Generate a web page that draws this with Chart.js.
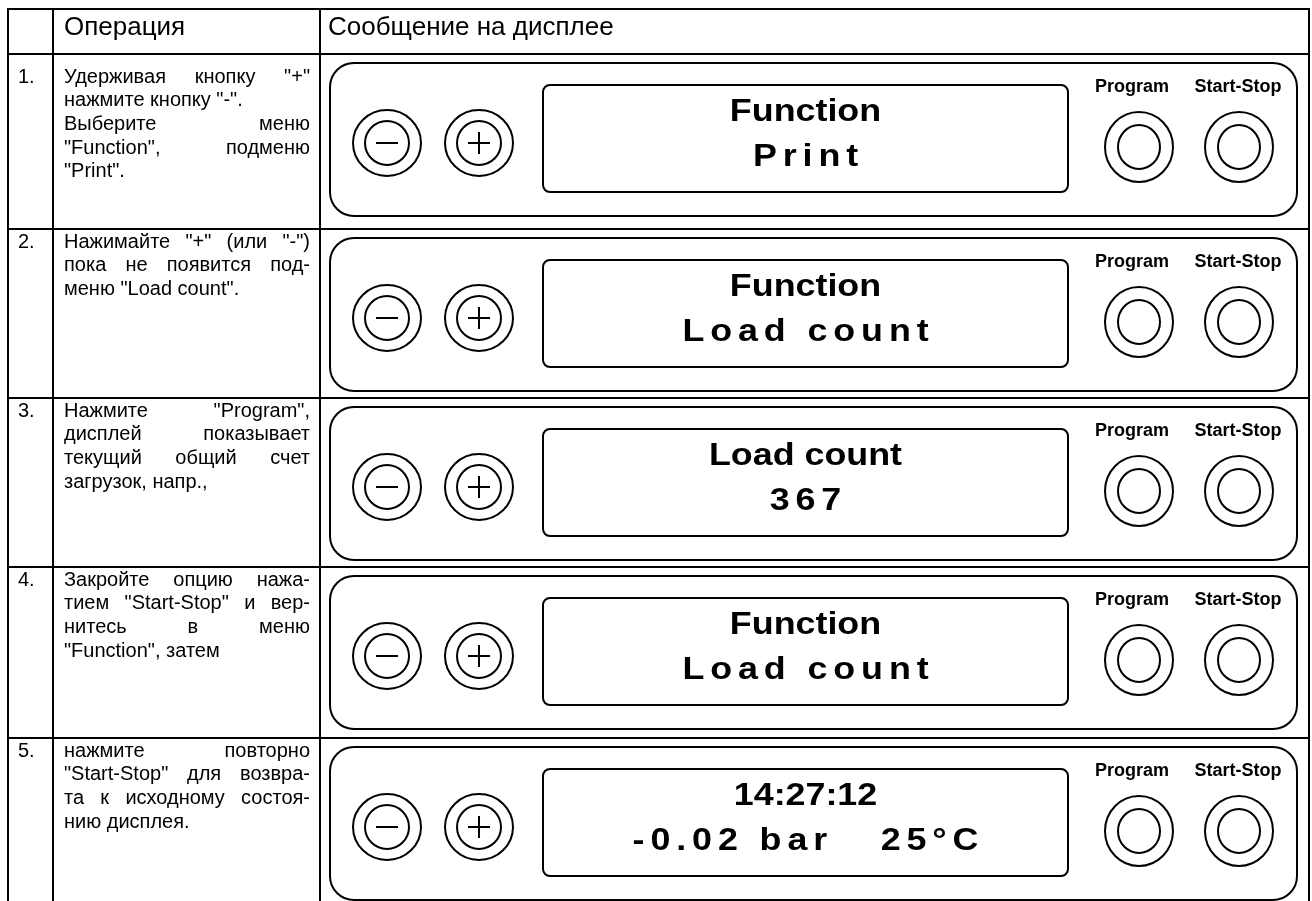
<!DOCTYPE html>
<html>
<head>
<meta charset="utf-8">
<script src="https://cdn.jsdelivr.net/npm/chart.js@4.4.0/dist/chart.umd.min.js"></script>
<style>
html, body { margin: 0; padding: 0; background: #fff; }
#wrap { position: relative; width: 1312px; height: 901px; }
</style>
</head>
<body>
<div id="wrap"><canvas id="myChart"></canvas></div>
<script>
// table content
var headers = ["Операция", "Сообщение на дисплее"];
var stepNumbers = ["1.", "2.", "3.", "4.", "5."];
var stepTexts = [
  ["Удерживая кнопку \"+\"", "нажмите кнопку \"-\".", "Выберите меню", "\"Function\", подменю", "\"Print\"."],
  ["Нажимайте \"+\" (или \"-\")", "пока не появится под-", "меню \"Load count\"."],
  ["Нажмите \"Program\",", "дисплей показывает", "текущий общий счет", "загрузок, напр.,"],
  ["Закройте опцию нажа-", "тием \"Start-Stop\" и вер-", "нитесь в меню", "\"Function\", затем"],
  ["нажмите повторно", "\"Start-Stop\" для возвра-", "та к исходному состоя-", "нию дисплея."]
];
var displayLine1 = ["Function", "Function", "Load count", "Function", "14:27:12"];
var displayLine2 = ["Print", "Load count", "367", "Load count", "-0.02 bar   25°C"];
var buttonLabels = ["Program", "Start-Stop"];

// layout (pixels of the 1312x901 page)
var layout = {
  left: 8, right: 1309, top: 9, bottom: 901,
  col1: 53, col2: 320,
  rowTops: [54, 229, 398, 567, 738],
  panelX0: 330, panelX1: 1297, panelH: 153, panelOff: 9,
  dispX0: 543, dispX1: 1068, dispOff: 22, dispH: 107,
  minusX: 387, plusX: 479, progX: 1139, startX: 1239
};

var sans = "'Liberation Sans', Arial, sans-serif";

// display characters are a little wider than plain Arial Bold
function drawDisplayLine(ctx, text, cx, cy, stretch, spacing) {
  var widths = [], total = 0;
  for (var i = 0; i < text.length; i++) {
    var w = ctx.measureText(text[i]).width * stretch;
    widths.push(w);
    total += w;
  }
  total += spacing * (text.length - 1);
  var x = cx - total / 2;
  ctx.textAlign = 'left';
  for (var j = 0; j < text.length; j++) {
    ctx.save();
    ctx.translate(x, cy);
    ctx.scale(stretch, 1);
    ctx.fillText(text[j], 0, 0);
    ctx.restore();
    x += widths[j] + spacing;
  }
}

function drawJustified(ctx, line, x0, x1, y, justify) {
  ctx.textAlign = 'left';
  var words = line.split(' ');
  if (!justify || words.length < 2) {
    ctx.fillText(line, x0, y);
    return;
  }
  var sum = 0;
  words.forEach(function (w) { sum += ctx.measureText(w).width; });
  var gap = (x1 - x0 - sum) / (words.length - 1);
  var x = x0;
  words.forEach(function (w) {
    ctx.fillText(w, x, y);
    x += ctx.measureText(w).width + gap;
  });
}

function ring(ctx, cx, cy, rx, ry) {
  ctx.beginPath();
  ctx.ellipse(cx, cy, rx, ry, 0, 0, Math.PI * 2);
  ctx.stroke();
}

const tablePlugin = {
  id: 'tableDraw',
  afterDraw(chart) {
    const ctx = chart.ctx;
    const X = v => chart.scales.x.getPixelForValue(v);
    const Y = v => chart.scales.y.getPixelForValue(v);
    const L = layout;

    ctx.save();
    ctx.strokeStyle = '#000';
    ctx.fillStyle = '#000';
    ctx.lineWidth = 2;

    // grid of the table
    ctx.beginPath();
    ctx.moveTo(X(L.left), Y(L.bottom)); ctx.lineTo(X(L.left), Y(L.top));
    ctx.lineTo(X(L.right), Y(L.top)); ctx.lineTo(X(L.right), Y(L.bottom));
    ctx.moveTo(X(L.col1), Y(L.top)); ctx.lineTo(X(L.col1), Y(L.bottom));
    ctx.moveTo(X(L.col2), Y(L.top)); ctx.lineTo(X(L.col2), Y(L.bottom));
    L.rowTops.forEach(function (t) {
      ctx.moveTo(X(L.left), Y(t)); ctx.lineTo(X(L.right), Y(t));
    });
    ctx.stroke();

    // headers
    ctx.font = '26px ' + sans;
    ctx.textBaseline = 'middle';
    ctx.textAlign = 'left';
    ctx.fillText(headers[0], X(L.col1 + 11), Y(28));
    ctx.fillText(headers[1], X(L.col2 + 8), Y(28));

    stepNumbers.forEach(function (num, i) {
      var top = L.rowTops[i];
      var ty = top + (i === 0 ? 23 : 13);

      // step number and instruction
      ctx.font = '20px ' + sans;
      ctx.textBaseline = 'middle';
      ctx.fillText(num, X(L.left + 10), Y(ty));
      var lines = stepTexts[i];
      lines.forEach(function (ln, k) {
        var last = k === lines.length - 1 || ln.charAt(ln.length - 1) === '.';
        drawJustified(ctx, ln, X(L.col1 + 11), X(L.col2 - 10), Y(ty + k * 23.7), !last);
      });

      // control panel outline
      var p0 = top + L.panelOff;
      ctx.lineWidth = 2;
      ctx.beginPath();
      ctx.roundRect(X(L.panelX0), Y(p0), X(L.panelX1) - X(L.panelX0), Y(p0 + L.panelH) - Y(p0), 24);
      ctx.stroke();

      // display window
      var d0 = p0 + L.dispOff;
      ctx.beginPath();
      ctx.roundRect(X(L.dispX0), Y(d0), X(L.dispX1) - X(L.dispX0), Y(d0 + L.dispH) - Y(d0), 7);
      ctx.stroke();

      var dcx = X((L.dispX0 + L.dispX1) / 2);
      ctx.font = 'bold 32px ' + sans;
      ctx.textBaseline = 'middle';
      drawDisplayLine(ctx, displayLine1[i], dcx, Y(d0 + 27), 1.12, 0);
      drawDisplayLine(ctx, displayLine2[i], dcx, Y(d0 + 72), 1.12, 5.9);

      // minus / plus buttons
      var by = p0 + 80;
      [L.minusX, L.plusX].forEach(function (bx, b) {
        ring(ctx, X(bx), Y(by), 34, 33);
        ring(ctx, X(bx), Y(by), 22, 22);
        ctx.beginPath();
        ctx.moveTo(X(bx - 11), Y(by)); ctx.lineTo(X(bx + 11), Y(by));
        if (b === 1) { ctx.moveTo(X(bx), Y(by - 11)); ctx.lineTo(X(bx), Y(by + 11)); }
        ctx.stroke();
      });

      // Program / Start-Stop
      var ry = p0 + 84;
      ctx.font = 'bold 18px ' + sans;
      ctx.textAlign = 'center';
      [L.progX, L.startX].forEach(function (bx, b) {
        ctx.fillText(buttonLabels[b], X(bx - (b === 0 ? 7 : 1)), Y(p0 + 24));
        ring(ctx, X(bx), Y(ry), 34, 35);
        ring(ctx, X(bx), Y(ry), 21, 22);
      });
      ctx.textAlign = 'left';
    });
    ctx.restore();
  }
};

var ctx1 = document.getElementById('myChart');
const myChart = new Chart(ctx1, {
  type: 'scatter',
  data: { datasets: [{ data: [], pointRadius: 0 }] },
  options: {
    responsive: true,
    maintainAspectRatio: false,
    animation: false,
    layout: { padding: 0 },
    plugins: { legend: { display: false }, tooltip: { enabled: false } },
    scales: {
      x: { type: 'linear', min: 0, max: 1312, display: false },
      y: { type: 'linear', min: 0, max: 901, reverse: true, display: false }
    }
  },
  plugins: [tablePlugin]
});
</script>
</body>
</html>
